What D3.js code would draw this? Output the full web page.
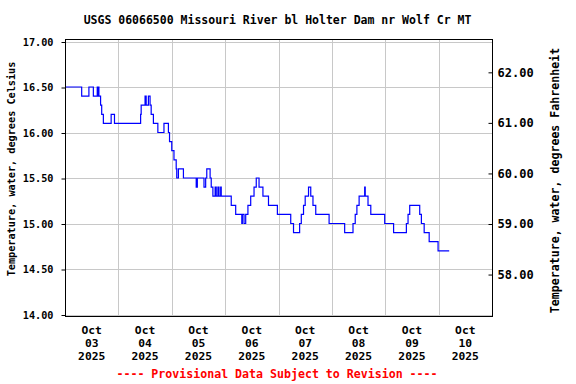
<!DOCTYPE html>
<html>
<head>
<meta charset="utf-8">
<script src="https://cdn.jsdelivr.net/npm/d3@7"></script>
<style>
body { margin: 0; background: #fff; }
text { font-family: "DejaVu Sans Mono", monospace; font-weight: bold; fill: #000; }
</style>
</head>
<body>
<div id="chart"></div>
<script>
var title = "USGS 06066500 Missouri River bl Holter Dam nr Wolf Cr MT";
var footer = "---- Provisional Data Subject to Revision ----";
var leftLabel = "Temperature, water, degrees Celsius";
var rightLabel = "Temperature, water, degrees Fahrenheit";

// hours after 2025-10-03 00:00 where the reading changes, and the new reading (deg C)
var hours = [0, 7.5, 10.75, 12.75, 14.5, 14.75, 15, 15.25, 16, 16.5, 17.25, 20.75, 22.25,
    34, 34.25, 36, 36.5, 37.5, 38.25, 38.75, 39.75, 41.75, 44.5, 46.5, 47, 48, 49, 50, 50.25, 51, 53.25, 59, 59.5,
    62.5, 63.25, 63.75, 65.25, 65.75, 66.5, 67.5, 68, 68.75, 69.25, 70, 70.25, 74.75, 76.75, 79.5, 79.75, 80.5, 81.25,
    82.25, 83.5, 85, 86, 87.25, 89, 91.5, 95.5, 101.5, 102.75,
    105.5, 106.25, 107.25, 108, 109.5, 110.5, 111.5, 112.75, 118.75, 125.75, 129.5, 130.5, 131.25, 132.25, 134.75, 135,
    136.25, 137.5, 143.75, 147.75, 153.5, 154.25, 155, 159.5, 160.25, 161.5, 163.75, 167.75, 172.75];
var tempC = [16.5, 16.4, 16.5, 16.4, 16.5, 16.4, 16.5, 16.4, 16.3, 16.2, 16.1, 16.2, 16.1,
    16.2, 16.3, 16.4, 16.3, 16.4, 16.3, 16.2, 16.1, 16.0, 16.1, 16.0, 15.9, 15.8, 15.7, 15.6, 15.5, 15.6, 15.5, 15.4, 15.5,
    15.4, 15.5, 15.6, 15.5, 15.4, 15.3, 15.4, 15.3, 15.4, 15.3, 15.4, 15.3, 15.2, 15.1, 15.0, 15.1, 15.0, 15.1,
    15.2, 15.3, 15.4, 15.5, 15.4, 15.3, 15.2, 15.1, 15.0, 14.9,
    15.0, 15.1, 15.2, 15.3, 15.4, 15.3, 15.2, 15.1, 15.0, 14.9, 15.0, 15.1, 15.2, 15.3, 15.4, 15.3,
    15.2, 15.1, 15.0, 14.9, 15.0, 15.1, 15.2, 15.1, 15.0, 14.9, 14.8, 14.7, 14.7];

var celsiusTicks = [14, 14.5, 15, 15.5, 16, 16.5, 17];
var fahrenheitTicks = [58, 59, 60, 61, 62];
var dayLabels = ["2025-10-03", "2025-10-04", "2025-10-05", "2025-10-06", "2025-10-07", "2025-10-08", "2025-10-09", "2025-10-10"];

var width = 576, height = 384;
var plotLeft = 65, plotRight = 492, plotTop = 41.5, plotBottom = 314.5;

var start = new Date(2025, 9, 3);
var end = new Date(2025, 9, 11);
var data = hours.map(function (h, i) {
    return { date: d3.timeMinute.offset(start, h * 60), value: tempC[i] };
});

var x = d3.scaleTime().domain([start, end]).range([plotLeft, plotRight]);
var y = d3.scaleLinear().domain([14, 17]).range([plotBottom, plotTop]);
var yF = d3.scaleLinear().domain([14 * 1.8 + 32, 17 * 1.8 + 32]).range([plotBottom, plotTop]);

var svg = d3.select("#chart").append("svg")
    .attr("width", width)
    .attr("height", height);

// grid
svg.append("g").selectAll("line")
    .data(celsiusTicks)
    .enter().append("line")
    .attr("x1", plotLeft).attr("x2", plotRight)
    .attr("y1", function (d) { return Math.round(y(d)) + 0.5; })
    .attr("y2", function (d) { return Math.round(y(d)) + 0.5; })
    .attr("stroke", "#c8c8c8");

svg.append("g").selectAll("line")
    .data(d3.timeDay.range(d3.timeDay.offset(start, 1), end))
    .enter().append("line")
    .attr("x1", function (d) { return Math.round(x(d)) + 0.5; })
    .attr("x2", function (d) { return Math.round(x(d)) + 0.5; })
    .attr("y1", 39.5).attr("y2", 316.5)
    .attr("stroke", "#c8c8c8");

// data line
var line = d3.line()
    .x(function (d) { return x(d.date); })
    .y(function (d) { return y(d.value); })
    .curve(d3.curveStepAfter);

svg.append("path")
    .datum(data)
    .attr("d", line)
    .attr("fill", "none")
    .attr("stroke", "#0000ff")
    .attr("stroke-width", 1.2);

// frame
svg.append("rect")
    .attr("x", plotLeft + 0.5).attr("y", 39.5)
    .attr("width", plotRight - plotLeft).attr("height", 277)
    .attr("fill", "none")
    .attr("stroke", "#000");

// left axis
var yAxis = svg.append("g")
    .attr("transform", "translate(" + (plotLeft + 0.5) + ",0.5)")
    .call(d3.axisLeft(y).tickValues(celsiusTicks).tickFormat(d3.format(".2f")).tickSize(4).tickPadding(8));
yAxis.select(".domain").remove();
yAxis.selectAll("text").style("font-size", "10.2px").attr("font-family", null);

// right axis
var fAxis = svg.append("g")
    .attr("transform", "translate(" + (plotRight + 0.5) + ",0.5)")
    .call(d3.axisRight(yF).tickValues(fahrenheitTicks).tickFormat(d3.format(".2f")).tickSizeInner(-4).tickPadding(5));
fAxis.select(".domain").remove();
fAxis.selectAll("text").style("font-size", "12px").attr("font-family", null);

// date labels at noon
var dl = svg.append("g").selectAll("text")
    .data(dayLabels)
    .enter().append("text")
    .attr("text-anchor", "middle")
    .style("font-size", "11.3px");
var parse = d3.timeParse("%Y-%m-%d");
[["%b", 334], ["%d", 347], ["%Y", 360]].forEach(function (f) {
    dl.append("tspan")
        .attr("x", function (d) { return x(d3.timeHour.offset(parse(d), 12)); })
        .attr("y", f[1])
        .text(function (d) { return d3.timeFormat(f[0])(parse(d)); });
});

// titles
svg.append("text")
    .attr("x", 277.5).attr("y", 24)
    .attr("text-anchor", "middle")
    .style("font-size", "11.5px")
    .text(title);

svg.append("text")
    .attr("transform", "translate(15,169) rotate(-90)")
    .attr("text-anchor", "middle")
    .style("font-size", "10.2px")
    .text(leftLabel);

svg.append("text")
    .attr("transform", "translate(559,180.5) rotate(-90)")
    .attr("text-anchor", "middle")
    .style("font-size", "11.6px")
    .text(rightLabel);

svg.append("text")
    .attr("x", 277).attr("y", 378)
    .attr("text-anchor", "middle")
    .style("font-size", "11.6px")
    .style("fill", "#ff0000")
    .text(footer);
</script>
</body>
</html>
